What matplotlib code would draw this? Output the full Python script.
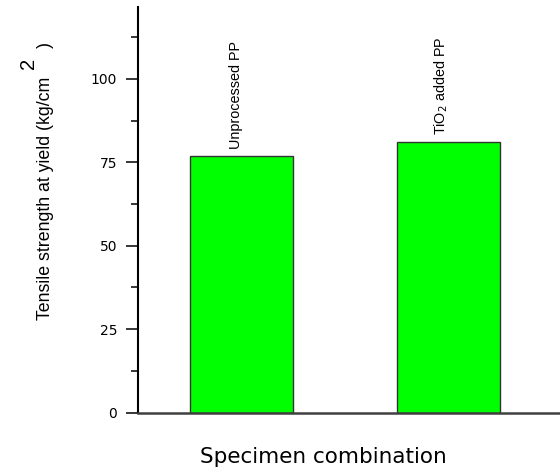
import matplotlib
matplotlib.use("Agg")
import matplotlib.pyplot as plt
from matplotlib.ticker import MultipleLocator

categories = ["Unprocessed PP", "TiO$_2$ added PP"]
values = [77, 81]
positions = [1, 2]
yticks = [0, 25, 50, 75, 100]

plt.rcParams["font.family"] = ["DejaVu Sans"]

W, H = 560, 468
fig = plt.figure(figsize=(W / 100, H / 100), dpi=100)
ax = fig.add_axes([138 / W, 1 - 412.7 / H, (W - 138) / W, (412.7 - 7) / H])

ax.bar(positions, values, width=0.5, color="#00ff00", edgecolor="#333333", linewidth=1.0)
ax.set_xlim(0.5, 2.54)
ax.set_ylim(0, 121.5)

for s in ["top", "right"]:
    ax.spines[s].set_visible(False)
ax.spines["left"].set_linewidth(1.5)
ax.spines["left"].set_color("black")
ax.spines["bottom"].set_linewidth(1.8)
ax.spines["bottom"].set_color("#404040")

ax.set_xticks([])
ax.set_yticks(yticks)
ax.yaxis.set_minor_locator(MultipleLocator(12.5))
ax.tick_params(axis="y", which="major", direction="out", length=8.6, width=1.1,
               pad=6.5, labelsize=10, colors="black")
ax.tick_params(axis="y", which="minor", direction="out", length=4.8, width=1.1)

lib = "Liberation Sans"
for x, v, lab in zip(positions, values, categories):
    ax.annotate(lab, xy=(x, v), xytext=(1, 5), textcoords="offset points",
                rotation=90, ha="right", va="bottom", fontsize=10.4,
                family=lib, color="black")

def fx(px):
    return px / W

def fy(py):
    return 1 - py / H

fig.text(fx(50), fy(77), "Tensile strength at yield (kg/cm", rotation=90,
         rotation_mode="anchor", ha="right", va="baseline", fontsize=12.8,
         family=lib)
fig.text(fx(34), fy(69), "2", rotation=90, rotation_mode="anchor",
         ha="left", va="baseline", fontsize=14.5, family=lib)
fig.text(fx(50), fy(48), ")", rotation=90, rotation_mode="anchor",
         ha="left", va="baseline", fontsize=12.8, family=lib)

fig.text(fx(323), fy(463), "Specimen combination", ha="center", va="baseline",
         fontsize=15.5, family="DejaVu Sans")

fig.savefig("out.png", dpi=100)
